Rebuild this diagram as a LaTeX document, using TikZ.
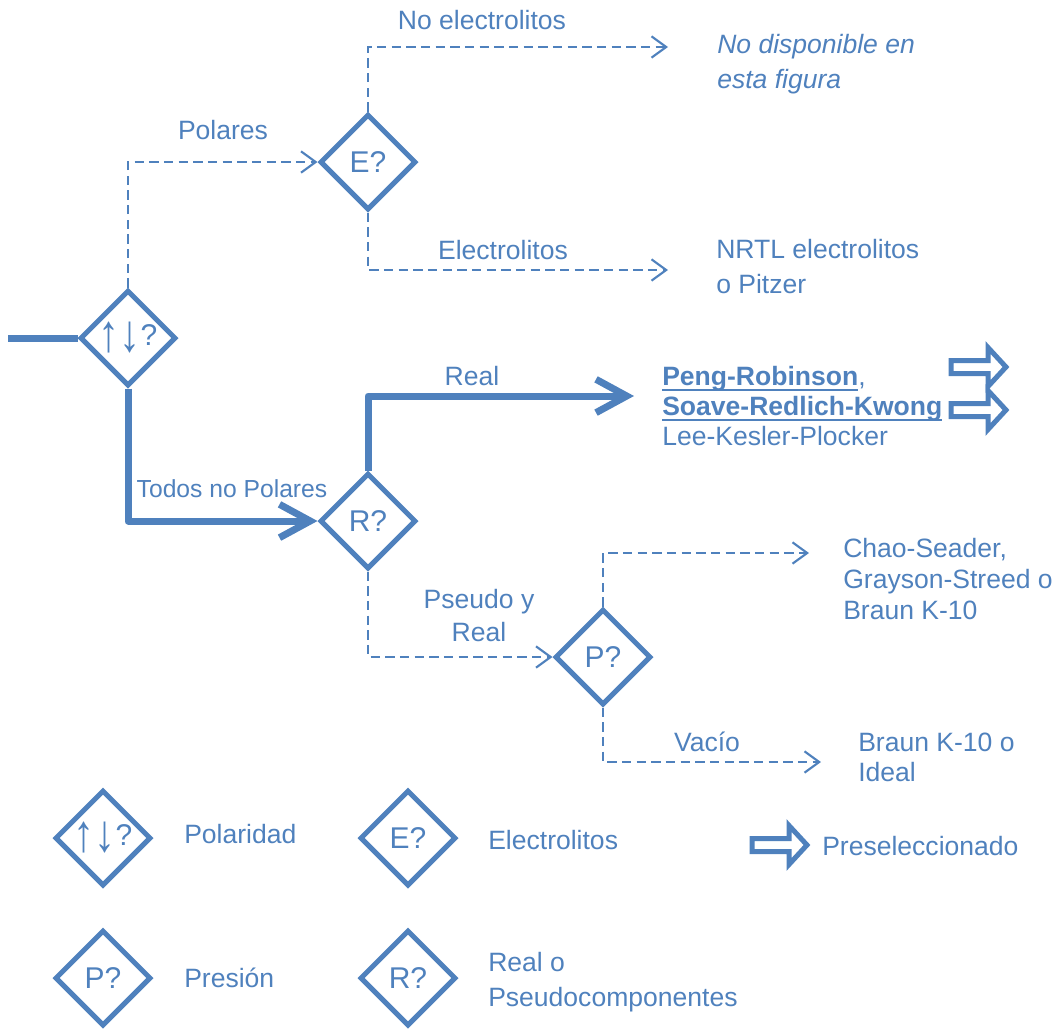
\documentclass[tikz,border=0pt]{standalone}
\usepackage{fontspec}
\setmainfont{Liberation Sans}
\usetikzlibrary{shapes.geometric,arrows.meta}
\definecolor{flowblue}{HTML}{4F81BD}

% bold text with a thick rule below the baseline
\newcommand\ulbold[1]{\setbox0\hbox{\bfseries #1}\rlap{\rule[-4.5pt]{\wd0}{2pt}}\box0}
% tall up/down arrows of the polarity test
\newcommand\updown{\raisebox{-0.2em}{\scalebox{1.4}[1.75]{↑↓}}}

\tikzset{
  txt/.style={text=flowblue, inner sep=0pt, font=\fontsize{19.9}{23.25}\selectfont},
  decision/.style={diamond, draw=flowblue, line width=3.75pt, minimum width=72pt,
    minimum height=72pt, inner sep=0pt, aspect=1, text=flowblue,
    font=\fontsize{22.5}{27}\selectfont},
  dashflow/.style={draw=flowblue, line width=1.6pt, dash pattern=on 7pt off 4pt,
    -{Straight Barb[length=11pt,width=16pt]}},
  mainflow/.style={draw=flowblue, line width=5.25pt, line join=round,
    -{Straight Barb[length=23pt,width=25pt]}},
  blockarrow/.style={draw=flowblue, line width=3.75pt, fill=white, line join=miter},
  pics/presel/.style={code={
    \draw[blockarrow] (0,-6.5) -- (37,-6.5) -- (37,-19.5) -- (55,0) -- (37,19.5)
      -- (37,6.5) -- (0,6.5) -- cycle;}}
}

\begin{document}
\begin{tikzpicture}[x=0.75pt,y=-0.75pt]
\useasboundingbox (0,0) rectangle (1058,1032);

% decision diamonds
\node[decision] (pol) at (128,338) {\updown?};
\node[decision] (eq) at (368,162) {E?};
\node[decision] (rq) at (368,521) {R?};
\node[decision] (pq) at (603,657) {P?};

% free ends of connectors
\coordinate (entry) at (8,338);
\coordinate (noelend) at (668,47);
\coordinate (elend) at (668,270);
\coordinate (realend) at (634,396);
\coordinate (highp) at (809,553);
\coordinate (vacend) at (821,762);

% connectors
\draw[draw=flowblue, line width=5.25pt] (entry) -- (pol.west);
\draw[dashflow] (pol.north) |- (eq.west);
\draw[dashflow] (eq.north) |- (noelend);
\draw[dashflow] (eq.south) |- (elend);
\draw[mainflow] (pol.south) |- (rq.west);
\draw[mainflow] (rq.north) |- (realend);
\draw[dashflow] (rq.south) |- (pq.west);
\draw[dashflow] (pq.north) |- (highp);
\draw[dashflow] (pq.south) |- (vacend);

% connector labels
\node[txt] (lpol) at (223,130) {Polares};
\node[txt] (lnoel) at (482,20) {No electrolitos};
\node[txt] (lel) at (503,250) {Electrolitos};
\node[txt, font=\fontsize{18.5}{22}\selectfont] (ltodos) at (232,489) {Todos no Polares};
\node[txt] (lreal) at (472,376) {Real};
\node[txt, align=center, font=\fontsize{19.9}{24.75}\selectfont] (lpseudo) at (479,616) {Pseudo y\\Real};
\node[txt] (lvac) at (707,742) {Vacío};

% outcomes
\node[txt, anchor=west, align=left, font=\fontsize{19.9}{26.25}\selectfont\itshape] (nodisp) at (717,64.5) {No disponible en\\esta figura};
\node[txt, anchor=west, align=left, font=\fontsize{19.9}{26.25}\selectfont] (nrtl) at (716,267) {NRTL electrolitos\\o Pitzer};
\node[txt, anchor=west, align=left, font=\fontsize{19.9}{22.5}\selectfont] (peng) at (662,406) {\ulbold{Peng-Robinson},\\\ulbold{Soave-Redlich-Kwong}\\Lee-Kesler-Plocker};
\node[txt, anchor=west, align=left] (chao) at (843,579) {Chao-Seader,\\Grayson-Streed o\\Braun K-10};
\node[txt, anchor=west, align=left, font=\fontsize{19.9}{22.5}\selectfont] (braun) at (858,757) {Braun K-10 o\\Ideal};

% preselected marks
\pic (presa) at (951,367) {presel};
\pic (presb) at (951,410) {presel};

% legend
\node[decision] (kpol) at (103,838) {\updown?};
\node[decision] (keq) at (408,838) {E?};
\node[decision] (kpq) at (103,978) {P?};
\node[decision] (krq) at (408,978) {R?};
\pic (kpres) at (752,845) {presel};
\node[txt, anchor=west] (tpol) at (184,834) {Polaridad};
\node[txt, anchor=west] (teq) at (488,840) {Electrolitos};
\node[txt, anchor=west] (tpres) at (822,846) {Preseleccionado};
\node[txt, anchor=west] (tpq) at (184,978) {Presión};
\node[txt, anchor=west, align=left, font=\fontsize{19.9}{26.25}\selectfont] (trq) at (488,982) {Real o\\Pseudocomponentes};
\end{tikzpicture}
\end{document}
